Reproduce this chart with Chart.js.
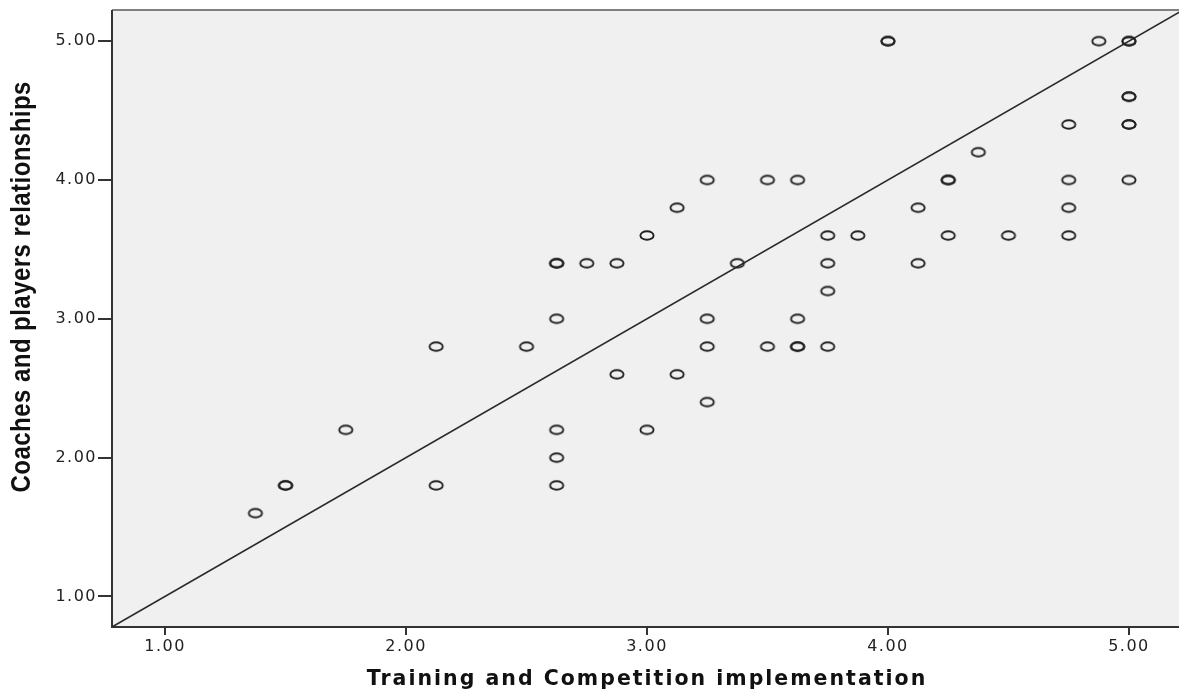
<!DOCTYPE html>
<html>
<head>
<meta charset="utf-8">
<script src="https://cdn.jsdelivr.net/npm/chart.js@4"></script>
<style>
  html, body { margin: 0; padding: 0; background: #fff; overflow: hidden; }
  #wrap { width: 1190px; height: 695px; }
</style>
</head>
<body>
<div id="wrap"><canvas id="myChart" width="1190" height="695"></canvas></div>
<script>
// Training and Competition implementation (x) vs Coaches and players relationships (y)
const trainingScores = [
  1.375, 1.5, 1.5, 1.75, 2.125, 2.125, 2.5,
  2.625, 2.625, 2.625, 2.625, 2.625, 2.625, 2.75, 2.875, 2.875,
  3.0, 3.0, 3.125, 3.125, 3.25, 3.25, 3.25, 3.25, 3.375,
  3.5, 3.5, 3.625, 3.625, 3.625, 3.625, 3.75, 3.75, 3.75, 3.75, 3.875,
  4.0, 4.0, 4.125, 4.125, 4.25, 4.25, 4.25, 4.375, 4.5,
  4.75, 4.75, 4.75, 4.75, 4.875, 5.0, 5.0, 5.0, 5.0, 5.0, 5.0, 5.0,
];
const relationshipScores = [
  1.6, 1.8, 1.8, 2.2, 2.8, 1.8, 2.8,
  3.4, 3.4, 3.0, 2.2, 2.0, 1.8, 3.4, 3.4, 2.6,
  3.6, 2.2, 3.8, 2.6, 4.0, 3.0, 2.8, 2.4, 3.4,
  4.0, 2.8, 4.0, 3.0, 2.8, 2.8, 3.6, 3.4, 3.2, 2.8, 3.6,
  5.0, 5.0, 3.8, 3.4, 4.0, 4.0, 3.6, 4.2, 3.6,
  4.4, 4.0, 3.8, 3.6, 5.0, 5.0, 5.0, 4.6, 4.6, 4.4, 4.4, 4.0,
];
// reference line end points
const lineX = [0.78, 5.22];
const lineY = [0.78, 5.22];
// tick labels
const xTicks = [1, 2, 3, 4, 5];
const yTicks = [1, 2, 3, 4, 5];
const axisMin = 0.78;
const axisMax = 5.22;

// open ellipse marker (the source picture is stretched sideways)
const makeRing = () => {
  const c = document.createElement("canvas");
  c.width = 18;
  c.height = 13;
  const g = c.getContext("2d");
  g.strokeStyle = "#222";
  g.lineWidth = 1.9;
  g.beginPath();
  g.ellipse(9, 6.5, 6.6, 4.2, 0, 0, Math.PI * 2);
  g.stroke();
  return c;
};

// draw some scale parts with extra letter spacing (and an optional transform)
const wrapDraw = (scale, name, spacing, transform) => {
  const original = scale[name];
  scale[name] = function (...args) {
    const ctx = this.ctx;
    ctx.save();
    ctx.letterSpacing = spacing;
    if (transform) transform(ctx, this);
    original.apply(this, args);
    ctx.restore();
  };
};

// y title: move it up a bit and squeeze it along its length (narrow font look)
const squeezeTitle = (ctx, scale) => {
  const mid = (scale.top + scale.bottom) / 2;
  const target = mid - 32;
  ctx.translate(0, target);
  ctx.scale(1, 0.89);
  ctx.translate(0, -mid);
};

const spacingPlugin = {
  id: "spacing",
  beforeDraw(chart) {
    const { x, y } = chart.scales;
    if (x._wrapped) return;
    wrapDraw(x, "drawLabels", "1.5px");
    wrapDraw(x, "drawTitle", "2px");
    wrapDraw(y, "drawLabels", "1.5px");
    wrapDraw(y, "drawTitle", "0.5px", squeezeTitle);
    x._wrapped = true;
  },
};

// grey plot background and the top frame line
const framePlugin = {
  id: "frame",
  beforeDraw(chart) {
    const { ctx, chartArea: a } = chart;
    ctx.save();
    ctx.fillStyle = "#f0f0f0";
    ctx.fillRect(a.left, a.top, a.right - a.left, a.bottom - a.top);
    ctx.strokeStyle = "#808080";
    ctx.lineWidth = 2;
    ctx.beginPath();
    ctx.moveTo(a.left, a.top - 0.5);
    ctx.lineTo(a.right, a.top - 0.5);
    ctx.stroke();
    ctx.restore();
  },
};

const points = trainingScores.map((x, i) => ({ x, y: relationshipScores[i] }));
const linePoints = lineX.map((x, i) => ({ x, y: lineY[i] }));

const tickFont = { family: "'DejaVu Sans', Verdana, sans-serif", size: 16 };

new Chart(document.getElementById("myChart"), {
  type: "scatter",
  data: {
    datasets: [
      {
        data: points,
        pointStyle: makeRing(),
        pointRadius: 7,
      },
      {
        type: "line",
        data: linePoints,
        borderColor: "#2a2a2a",
        borderWidth: 1.6,
        pointRadius: 0,
        fill: false,
      },
    ],
  },
  options: {
    responsive: false,
    animation: false,
    devicePixelRatio: 1,
    events: [],
    layout: { padding: { top: 7.5, right: 5, left: 0, bottom: 0 } },
    plugins: { legend: { display: false }, tooltip: { enabled: false } },
    scales: {
      x: {
        type: "linear",
        min: axisMin,
        max: axisMax,
        afterBuildTicks: (scale) => {
          scale.ticks = xTicks.map((v) => ({ value: v }));
        },
        afterFit: (scale) => {
          scale.height = 68;
        },
        grid: { drawOnChartArea: false, tickLength: 8, tickColor: "#333", lineWidth: 2 },
        border: { color: "#333", width: 2 },
        ticks: {
          font: tickFont,
          color: "#222",
          padding: 2,
          maxRotation: 0,
          callback: (v) => v.toFixed(2),
        },
        title: {
          display: true,
          text: "Training and Competition implementation",
          color: "#111",
          font: { family: "'DejaVu Sans', Verdana, sans-serif", size: 20.5, weight: "bold" },
          padding: { top: 0, bottom: 3 },
        },
      },
      y: {
        type: "linear",
        min: axisMin,
        max: axisMax,
        afterBuildTicks: (scale) => {
          scale.ticks = yTicks.map((v) => ({ value: v }));
        },
        afterFit: (scale) => {
          scale.width = 112;
        },
        grid: { drawOnChartArea: false, tickLength: 14, tickColor: "#333", lineWidth: 2 },
        border: { color: "#333", width: 2 },
        ticks: {
          font: tickFont,
          color: "#222",
          padding: 1,
          callback: (v) => v.toFixed(2),
        },
        title: {
          display: true,
          text: "Coaches and players relationships",
          color: "#111",
          font: { family: "'Liberation Sans', Arial, sans-serif", size: 27, weight: "bold" },
          padding: { top: 6, bottom: 0 },
        },
      },
    },
  },
  plugins: [framePlugin, spacingPlugin],
});
</script>
</body>
</html>
